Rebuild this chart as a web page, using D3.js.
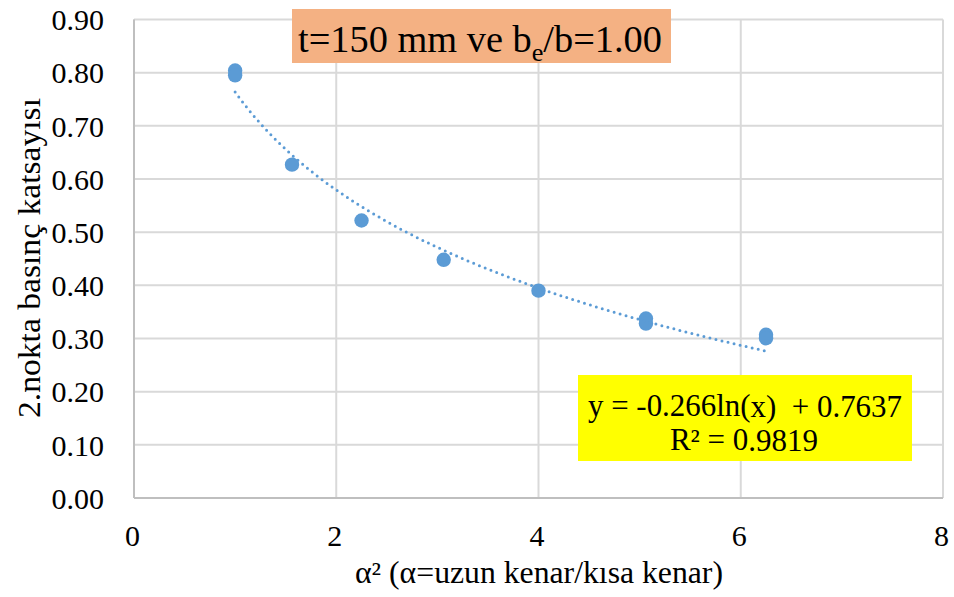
<!DOCTYPE html>
<html>
<head>
<meta charset="utf-8">
<script src="https://cdn.jsdelivr.net/npm/d3@7"></script>
<style>
  html, body { margin: 0; padding: 0; background: #fff; }
  svg { display: block; }
  svg text, svg tspan { font-family: "Liberation Serif", "Times New Roman", serif !important; white-space: pre; }
</style>
</head>
<body>
<svg id="chart" width="954" height="597" font-family="Liberation Serif"></svg>
<script>
// ---- data ----
const xValues = [1, 1, 1.5625, 2.25, 3.0625, 4, 5.0625, 5.0625, 6.25, 6.25];
const yValues = [0.804, 0.795, 0.627, 0.522, 0.448, 0.390, 0.3375, 0.328, 0.307, 0.3005];
const xTicks = [0, 2, 4, 6, 8];
const yTicks = [0, 0.1, 0.2, 0.3, 0.4, 0.5, 0.6, 0.7, 0.8, 0.9];
const trendA = -0.266;
const trendB = 0.7637;
const trendRange = [1, 6.25];
const titleParts = ["t=150 mm ve b", "e", "/b=1.00"];
const equationLines = ["y = -0.266ln(x)\u00a0 + 0.7637", "R² = 0.9819"];
const xAxisTitle = "α² (α=uzun kenar/kısa kenar)";
const yAxisTitle = "2.nokta basınç katsayısı";

// ---- layout ----
const FONT = "Liberation Serif";
const svg = d3.select("#chart");
const pLeft = 134, pRight = 943, pTop = 19.5, pBottom = 498;
const x = d3.scaleLinear().domain([0, 8]).range([pLeft, pRight]);
const y = d3.scaleLinear().domain([0, 0.9]).range([pBottom, pTop]);
const blue = "#5B9BD5";

function serif(sel) { return sel.attr("font-family", FONT).style("font-family", FONT, "important"); }

// gridlines
const grid = svg.append("g");
grid.selectAll("line.h").data(yTicks).join("line").attr("class", "h")
  .attr("x1", pLeft).attr("x2", pRight)
  .attr("y1", d => y(d)).attr("y2", d => y(d))
  .attr("stroke", "#D9D9D9").attr("stroke-width", 2);
grid.selectAll("line.v").data(xTicks).join("line").attr("class", "v")
  .attr("y1", pTop).attr("y2", pBottom)
  .attr("x1", d => x(d)).attr("x2", d => x(d))
  .attr("stroke", "#D9D9D9").attr("stroke-width", 2);
// axis lines
svg.append("line").attr("x1", pLeft).attr("x2", pRight).attr("y1", pBottom).attr("y2", pBottom)
  .attr("stroke", "#BFBFBF").attr("stroke-width", 2);
svg.append("line").attr("x1", pLeft).attr("x2", pLeft).attr("y1", pTop).attr("y2", pBottom)
  .attr("stroke", "#BFBFBF").attr("stroke-width", 2);

// tick labels via d3 axes
const yAxis = d3.axisLeft(y).tickValues(yTicks).tickFormat(d3.format(".2f")).tickSize(0).tickPadding(0);
const gy = svg.append("g").attr("transform", `translate(104,0)`).call(yAxis).attr("font-size", 30);
serif(gy);
gy.select(".domain").remove();
serif(gy.selectAll("text").attr("x", 0).attr("dy", "0.34em").attr("fill", "#000").attr("transform", "rotate(0.01)"));

const xAxis = d3.axisBottom(x).tickValues(xTicks).tickFormat(d3.format("d")).tickSize(0).tickPadding(0);
const gx = svg.append("g").attr("transform", `translate(-2,${pBottom})`).call(xAxis).attr("font-size", 30);
serif(gx);
gx.select(".domain").remove();
serif(gx.selectAll("text").attr("dy", null).attr("y", 0).attr("transform", "translate(0,48) rotate(0.01)").attr("fill", "#000"));

// axis titles
serif(svg.append("text").attr("transform", "translate(539,583) rotate(0.01)").attr("text-anchor", "middle")
  .attr("font-size", 31)
  .attr("textLength", 368).attr("lengthAdjust", "spacingAndGlyphs")
  .text(xAxisTitle));
serif(svg.append("text").attr("transform", "translate(40,258) rotate(-90)").attr("text-anchor", "middle")
  .attr("font-size", 32)
  .attr("textLength", 320).attr("lengthAdjust", "spacingAndGlyphs")
  .text(yAxisTitle));

// trendline
const trendPts = d3.range(0, 101).map(i => {
  const xv = trendRange[0] + (trendRange[1] - trendRange[0]) * i / 100;
  return [xv, trendA * Math.log(xv) + trendB];
});
const line = d3.line().x(d => x(d[0])).y(d => y(d[1]));

// markers
svg.append("g").selectAll("circle").data(xValues.map((v, i) => [v, yValues[i]])).join("circle")
  .attr("cx", d => x(d[0])).attr("cy", d => y(d[1])).attr("r", 7.2).attr("fill", blue);

svg.append("path").datum(trendPts).attr("d", line)
  .attr("fill", "none").attr("stroke", blue).attr("stroke-width", 3)
  .attr("stroke-linecap", "round").attr("stroke-dasharray", "0,6.2");

// title box
svg.append("rect").attr("x", 292).attr("y", 9).attr("width", 379).attr("height", 54).attr("fill", "#F4B183");
const t = serif(svg.append("text").attr("transform", "translate(298,51.5) rotate(0.01)").attr("font-size", 38)
  .attr("textLength", 364).attr("lengthAdjust", "spacingAndGlyphs"));
t.append("tspan").text(titleParts[0]);
t.append("tspan").attr("font-size", 26).attr("dy", 9).text(titleParts[1]);
t.append("tspan").attr("dy", -9).text(titleParts[2]);

// equation box
svg.append("rect").attr("x", 578).attr("y", 375).attr("width", 334).attr("height", 86).attr("fill", "#FFFF00");
serif(svg.append("text").attr("transform", "translate(745,416.5) rotate(0.01)").attr("text-anchor", "middle").attr("font-size", 31)
  .attr("textLength", 314).attr("lengthAdjust", "spacingAndGlyphs").text(equationLines[0]));
serif(svg.append("text").attr("transform", "translate(744,450.5) rotate(0.01)").attr("text-anchor", "middle").attr("font-size", 31)
  .text(equationLines[1]));
</script>
</body>
</html>
